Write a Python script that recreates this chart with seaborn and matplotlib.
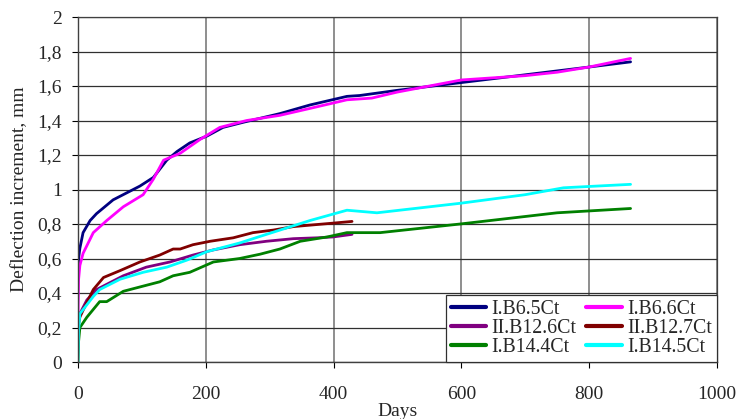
import pandas as pd
import seaborn as sns
import matplotlib.pyplot as plt
from matplotlib.ticker import FuncFormatter

# days / deflection increment (mm)
days_b65 = [0, 1, 3, 8, 19, 29, 55, 76, 97, 118, 139, 155, 175, 202, 227, 259, 316, 363, 421, 441, 500, 600, 700, 800, 865]
defl_b65 = [0.52, 0.6, 0.66, 0.75, 0.82, 0.86, 0.94, 0.98, 1.02, 1.07, 1.17, 1.22, 1.27, 1.31, 1.36, 1.39, 1.44, 1.49, 1.54, 1.545, 1.575, 1.62, 1.665, 1.71, 1.74]

days_b66 = [0, 1, 3, 8, 24, 45, 71, 102, 118, 134, 160, 191, 222, 264, 316, 363, 421, 460, 500, 600, 700, 750, 800, 865]
defl_b66 = [0.25, 0.48, 0.56, 0.63, 0.75, 0.82, 0.9, 0.97, 1.06, 1.17, 1.21, 1.29, 1.36, 1.4, 1.43, 1.47, 1.52, 1.53, 1.565, 1.635, 1.66, 1.68, 1.71, 1.76]

days_b126 = [0, 3, 14, 29, 50, 71, 107, 144, 180, 212, 253, 295, 337, 374, 399, 429]
defl_b126 = [0.2, 0.28, 0.36, 0.42, 0.46, 0.5, 0.55, 0.58, 0.62, 0.65, 0.68, 0.7, 0.715, 0.72, 0.725, 0.74]

days_b127 = [0, 3, 8, 24, 40, 66, 97, 128, 149, 160, 180, 207, 243, 274, 306, 337, 368, 399, 429]
defl_b127 = [0.2, 0.26, 0.3, 0.42, 0.49, 0.53, 0.58, 0.62, 0.655, 0.655, 0.68, 0.7, 0.72, 0.75, 0.765, 0.785, 0.795, 0.805, 0.815]

days_b144 = [0, 1, 3, 14, 34, 45, 71, 102, 128, 149, 175, 212, 253, 285, 316, 348, 390, 421, 473, 598, 750, 865]
defl_b144 = [0.0, 0.12, 0.2, 0.26, 0.35, 0.35, 0.41, 0.44, 0.465, 0.5, 0.52, 0.58, 0.6, 0.625, 0.655, 0.7, 0.725, 0.75, 0.75, 0.8, 0.865, 0.89]

days_b145 = [0, 1, 3, 24, 34, 66, 102, 139, 170, 202, 253, 295, 363, 421, 468, 598, 700, 760, 865]
defl_b145 = [0.0, 0.18, 0.28, 0.38, 0.42, 0.48, 0.52, 0.55, 0.59, 0.64, 0.69, 0.74, 0.82, 0.88, 0.865, 0.92, 0.97, 1.01, 1.03]

series_names = ['I.B6.5Ct', 'I.B6.6Ct', 'II.B12.6Ct', 'II.B12.7Ct', 'I.B14.4Ct', 'I.B14.5Ct']
series_days = [days_b65, days_b66, days_b126, days_b127, days_b144, days_b145]
series_defl = [defl_b65, defl_b66, defl_b126, defl_b127, defl_b144, defl_b145]
colors = ['#000080', '#FF00FF', '#800080', '#800000', '#008000', '#00FFFF']

frames = []
for name, d, v in zip(series_names, series_days, series_defl):
    frames.append(pd.DataFrame({'Days': d, 'Deflection': v, 'Beam': name}))
df = pd.concat(frames, ignore_index=True)

sns.set_style('white')
plt.rcParams['font.family'] = ['Liberation Serif', 'DejaVu Serif']

fig = plt.figure(figsize=(7.39, 4.19), dpi=100)
ax = fig.add_axes([0.1055, 0.136, 0.8645, 0.8234])

sns.lineplot(data=df, x='Days', y='Deflection', hue='Beam', hue_order=series_names,
             palette=dict(zip(series_names, colors)), estimator=None, sort=False,
             linewidth=2.0, ax=ax)

ax.set_xlim(0, 1000)
ax.set_ylim(0, 2)
ax.set_xticks(range(0, 1001, 200))
ax.set_yticks([i * 0.2 for i in range(11)])
ax.yaxis.set_major_formatter(FuncFormatter(lambda v, p: ('%g' % round(v, 1)).replace('.', ',')))
ax.grid(True, axis='y', color='#303030', linewidth=0.9)
ax.grid(True, axis='x', color='#707070', linewidth=1.1)
ax.set_axisbelow(True)
for s in ['top', 'right']:
    ax.spines[s].set_color('#404040')
    ax.spines[s].set_linewidth(0.9)
for s in ['left', 'bottom']:
    ax.spines[s].set_color('#404040')
    ax.spines[s].set_linewidth(1.0)
ax.tick_params(axis='both', direction='out', length=4, width=0.8, color='black',
               labelsize=14, left=True, bottom=True)
ax.tick_params(axis='x', pad=13)
ax.tick_params(axis='y', pad=7.5)

ax.set_xlabel('Days', fontsize=14, labelpad=0)
ax.set_ylabel('Deflection increment, mm', fontsize=14, labelpad=7)

# reorder so legend fills row by row
handles, labels = ax.get_legend_handles_labels()
order = [0, 2, 4, 1, 3, 5]
leg = ax.legend([handles[i] for i in order], [labels[i] for i in order],
                loc='lower right', ncol=2, fontsize=14.3, frameon=True, fancybox=False,
                borderpad=0.25, labelspacing=0.0, handlelength=1.8, handletextpad=0.25,
                columnspacing=0.5, borderaxespad=0.0)
leg.get_frame().set_edgecolor('#303030')
leg.get_frame().set_linewidth(0.9)
leg.get_frame().set_alpha(1)
for line in leg.get_lines():
    line.set_linewidth(3)

fig.savefig('out.png', dpi=100)
